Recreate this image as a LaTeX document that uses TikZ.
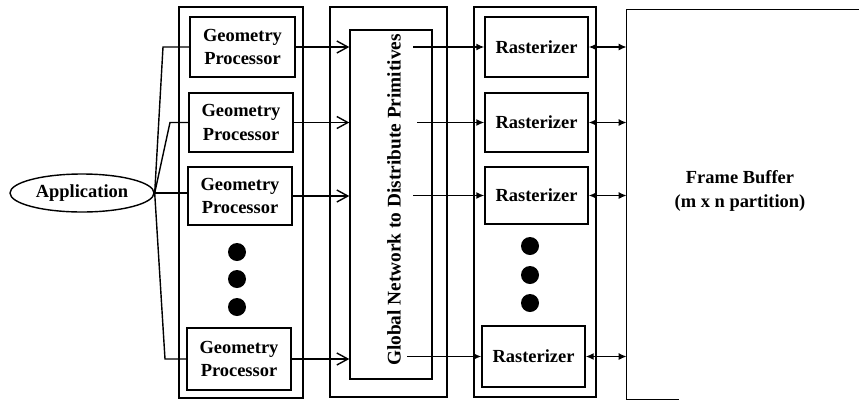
\documentclass[tikz,border=0pt]{standalone}
\usepackage{fontspec}
\setmainfont{Liberation Serif}
\usetikzlibrary{arrows.meta, positioning, shapes.geometric}

\begin{document}
\begin{tikzpicture}[
    x=0.02cm, y=-0.02cm,
    every node/.style={font=\fontsize{10.5}{13.5}\selectfont\bfseries},
    unit/.style={
        draw,
        thick,
        align=center,
        inner sep=0pt
    },
    column/.style={draw, thick, inner sep=0pt},
    dot/.style={circle, fill, inner sep=0pt, minimum size=18*0.02cm},
    feed/.style={thick},
    toNet/.style={-{Straight Barb[length=2.2mm, width=2.4mm]}, thick},
    toRaster/.style={-{Latex[length=1.6mm, width=1.4mm]}, thick},
    toFrame/.style={{Latex[length=1.6mm, width=1.4mm]}-{Latex[length=1.6mm, width=1.4mm]}, thick}
]
\useasboundingbox (0,0) rectangle (859,400);

% columns
\node[column, minimum width=124*0.02cm, minimum height=391*0.02cm] (gpcol) at (241,202.5) {};
\node[column, minimum width=117*0.02cm, minimum height=390*0.02cm] (netcol) at (388.5,202) {};
\node[column, minimum width=82*0.02cm, minimum height=349*0.02cm] (net) at (391,204.5) {};
\node[column, minimum width=122*0.02cm, minimum height=390*0.02cm] (rcol) at (535,202) {};
\node[inner sep=0pt, minimum width=232*0.02cm, minimum height=389*0.02cm] (fb) at (743,204.5) {};
\draw[thick] (fb.north east) -- (fb.north west) -- (fb.south west) -- ([xshift=-180*0.02cm]fb.south east);

% application
\node[draw, thick, ellipse, minimum width=144*0.02cm, minimum height=38*0.02cm, inner sep=0pt] (app) at (82,193) {Application};

% geometry processors
\node[unit, minimum width=105*0.02cm, minimum height=60*0.02cm] (g1) at (242.5,47) {Geometry\\Processor};
\node[unit, minimum width=104*0.02cm, minimum height=59*0.02cm] (g2) at (241,122.5) {Geometry\\Processor};
\node[unit, minimum width=104*0.02cm, minimum height=58*0.02cm] (g3) at (240,196) {Geometry\\Processor};
\node[unit, minimum width=104*0.02cm, minimum height=62*0.02cm] (g4) at (239,359) {Geometry\\Processor};
\node[dot] (gd1) at (237,252) {};
\node[dot] (gd2) at (237,279) {};
\node[dot] (gd3) at (237,307) {};

% rasterizers
\node[unit, minimum width=103*0.02cm, minimum height=60*0.02cm] (r1) at (536.5,47) {Rasterizer};
\node[unit, minimum width=103*0.02cm, minimum height=59*0.02cm] (r2) at (536.5,122.5) {Rasterizer};
\node[unit, minimum width=103*0.02cm, minimum height=57*0.02cm] (r3) at (536.5,195.5) {Rasterizer};
\node[unit, minimum width=103*0.02cm, minimum height=61*0.02cm] (r4) at (533.5,356.5) {Rasterizer};
\node[dot] (rd1) at (530,246) {};
\node[dot] (rd2) at (530,275) {};
\node[dot] (rd3) at (530,303) {};

% labels
\node[rotate=90, font=\fontsize{11}{13.5}\selectfont\bfseries] (netlabel) at (394,200) {Global Network to Distribute Primitives};
\node[align=center] (fblabel) at (740,191) {Frame Buffer\\(m x n partition)};

% application to geometry processors
\draw[feed] (app.east) -- (163,47) -- (g1.west);
\draw[feed] (app.east) -- (170,122.5) -- (g2.west);
\draw[feed] (app.east) -- (g3.west |- app.east);
\draw[feed] (app.east) -- (165,359) -- (g4.west);

% geometry processors to network
\foreach \g in {g1, g2, g3, g4}
    \draw[toNet] (\g.east) -- (\g.east -| net.west);

% network to rasterizers
\coordinate (n1) at (413,47);
\coordinate (n2) at (417,122.5);
\coordinate (n3) at (413,195.5);
\coordinate (n4) at (407,356.5);
\foreach \i in {1,...,4}
    \draw[toRaster] (n\i) -- (r\i.west);

% rasterizers to frame buffer
\foreach \r in {r1, r2, r3, r4}
    \draw[toFrame] (\r.east) -- (\r.east -| fb.west);

\end{tikzpicture}
\end{document}
